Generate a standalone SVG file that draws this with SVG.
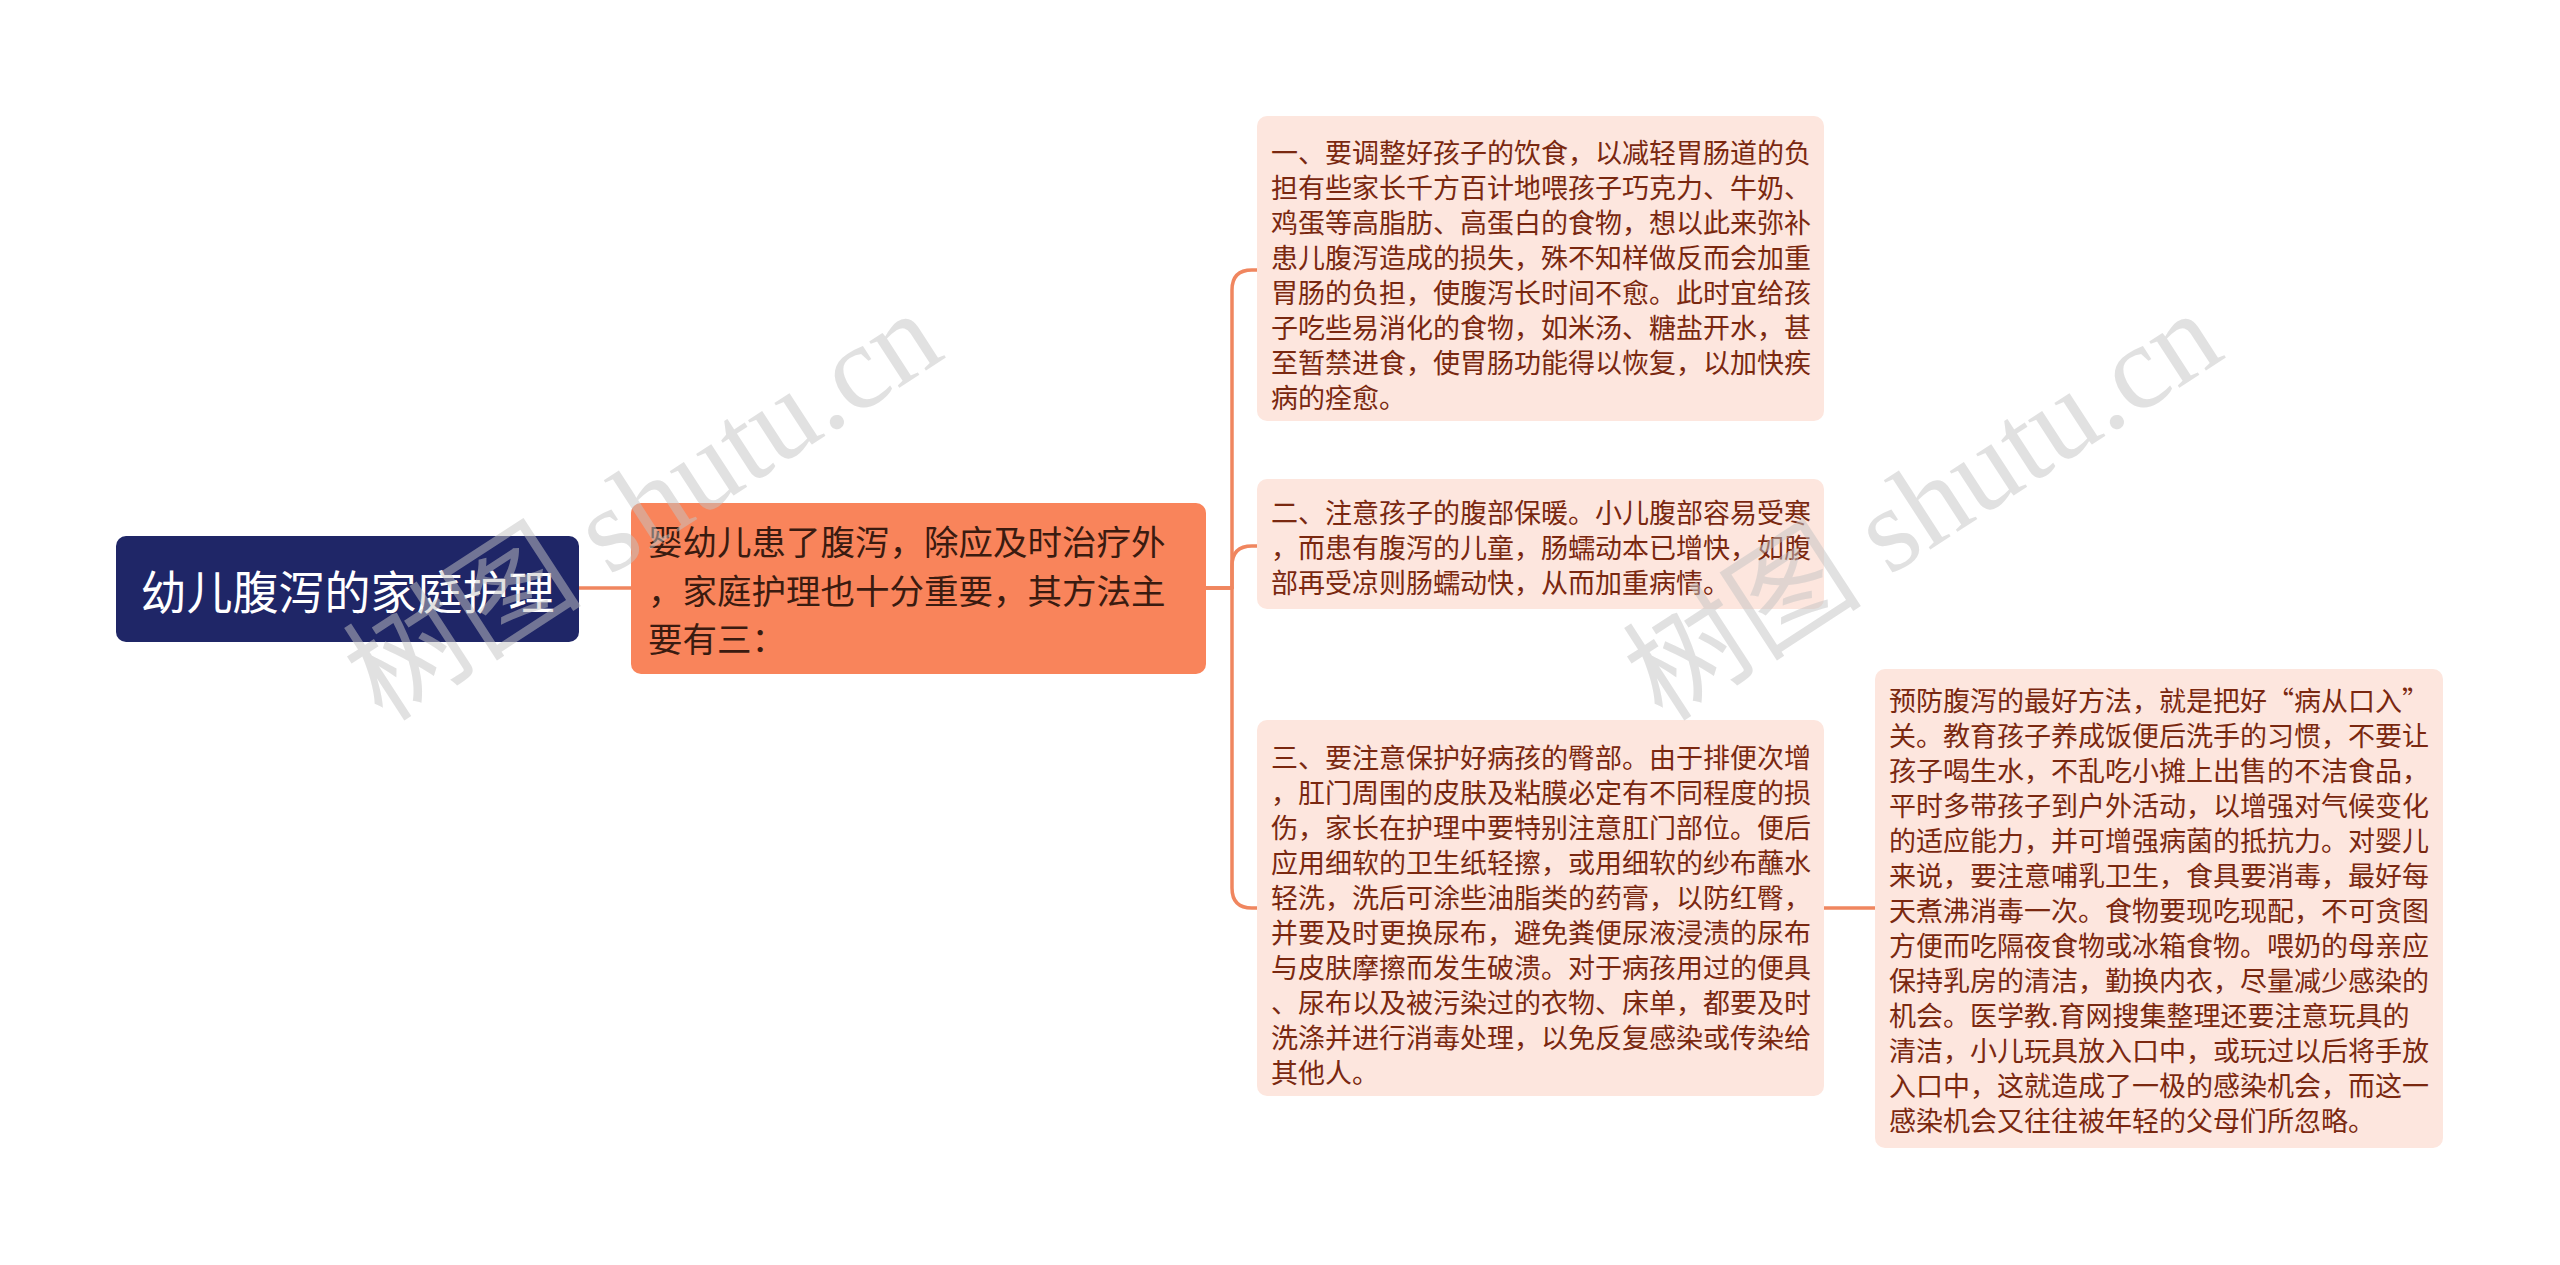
<svg xmlns="http://www.w3.org/2000/svg" width="2560" height="1265" viewBox="0 0 2560 1265">
<style>
.cjk{font-family:"Noto Sans CJK SC","Noto Sans CJK TC",sans-serif;}
.root-box{fill:#1F2667;}
.root-txt{fill:#FFFFFF;font-size:46px;}
.main-box{fill:#F9845B;}
.main-txt{fill:#3A1B10;font-size:34.5px;}
.leaf-box{fill:#FDE6DE;}
.leaf-txt{fill:#7A2810;font-size:27px;}
.conn{fill:none;stroke:#F0865F;stroke-width:3.5;stroke-linecap:round;stroke-linejoin:round;}
.wm{fill:#C4C4C4;opacity:0.5;font-size:120px;font-family:"Liberation Serif","Noto Sans CJK SC",serif;}
</style>
<rect width="2560" height="1265" fill="#FFFFFF"/>
<g id="connectors">
<path class="conn" d="M579 588 L631 588"/>
<path class="conn" d="M1206 588 L1232 588 L1232 290 Q1232 270 1252 270 L1257 270"/>
<path class="conn" d="M1206 588 L1232 588 L1232 566 Q1232 546 1252 546 L1257 546"/>
<path class="conn" d="M1206 588 L1232 588 L1232 888 Q1232 908 1252 908 L1257 908"/>
<path class="conn" d="M1824 908 L1875 908"/>
</g>
<g id="root">
<rect class="root-box" x="116" y="536" width="463" height="106" rx="10"/>
<text class="cjk root-txt" x="347.5" y="589" text-anchor="middle" dominant-baseline="central">幼儿腹泻的家庭护理</text>
</g>
<g id="main">
<rect class="main-box" x="631" y="503" width="575" height="171" rx="10"/>
<text class="cjk main-txt" dominant-baseline="central">
<tspan x="648" y="540">婴幼儿患了腹泻，除应及时治疗外</tspan>
<tspan x="648" y="589">，家庭护理也十分重要，其方法主</tspan>
<tspan x="648" y="637">要有三：</tspan>
</text>
</g>
<g id="leaf1">
<rect class="leaf-box" x="1257" y="116" width="567" height="305" rx="10"/>
<text class="cjk leaf-txt" dominant-baseline="central">
<tspan x="1271" y="151">一、要调整好孩子的饮食，以减轻胃肠道的负</tspan>
<tspan x="1271" y="186">担有些家长千方百计地喂孩子巧克力、牛奶、</tspan>
<tspan x="1271" y="221">鸡蛋等高脂肪、高蛋白的食物，想以此来弥补</tspan>
<tspan x="1271" y="256">患儿腹泻造成的损失，殊不知样做反而会加重</tspan>
<tspan x="1271" y="291">胃肠的负担，使腹泻长时间不愈。此时宜给孩</tspan>
<tspan x="1271" y="326">子吃些易消化的食物，如米汤、糖盐开水，甚</tspan>
<tspan x="1271" y="361">至暂禁进食，使胃肠功能得以恢复，以加快疾</tspan>
<tspan x="1271" y="396">病的痊愈。</tspan>
</text>
</g>
<g id="leaf2">
<rect class="leaf-box" x="1257" y="479" width="567" height="130" rx="10"/>
<text class="cjk leaf-txt" dominant-baseline="central">
<tspan x="1271" y="511">二、注意孩子的腹部保暖。小儿腹部容易受寒</tspan>
<tspan x="1271" y="546">，而患有腹泻的儿童，肠蠕动本已增快，如腹</tspan>
<tspan x="1271" y="581">部再受凉则肠蠕动快，从而加重病情。</tspan>
</text>
</g>
<g id="leaf3">
<rect class="leaf-box" x="1257" y="720" width="567" height="376" rx="10"/>
<text class="cjk leaf-txt" dominant-baseline="central">
<tspan x="1271" y="756">三、要注意保护好病孩的臀部。由于排便次增</tspan>
<tspan x="1271" y="791">，肛门周围的皮肤及粘膜必定有不同程度的损</tspan>
<tspan x="1271" y="826">伤，家长在护理中要特别注意肛门部位。便后</tspan>
<tspan x="1271" y="861">应用细软的卫生纸轻擦，或用细软的纱布蘸水</tspan>
<tspan x="1271" y="896">轻洗，洗后可涂些油脂类的药膏，以防红臀，</tspan>
<tspan x="1271" y="931">并要及时更换尿布，避免粪便尿液浸渍的尿布</tspan>
<tspan x="1271" y="966">与皮肤摩擦而发生破溃。对于病孩用过的便具</tspan>
<tspan x="1271" y="1001">、尿布以及被污染过的衣物、床单，都要及时</tspan>
<tspan x="1271" y="1036">洗涤并进行消毒处理，以免反复感染或传染给</tspan>
<tspan x="1271" y="1071">其他人。</tspan>
</text>
</g>
<g id="leaf4">
<rect class="leaf-box" x="1875" y="669" width="568" height="479" rx="10"/>
<text class="cjk leaf-txt" dominant-baseline="central">
<tspan x="1889" y="699">预防腹泻的最好方法，就是把好“病从口入”</tspan>
<tspan x="1889" y="734">关。教育孩子养成饭便后洗手的习惯，不要让</tspan>
<tspan x="1889" y="769">孩子喝生水，不乱吃小摊上出售的不洁食品，</tspan>
<tspan x="1889" y="804">平时多带孩子到户外活动，以增强对气候变化</tspan>
<tspan x="1889" y="839">的适应能力，并可增强病菌的抵抗力。对婴儿</tspan>
<tspan x="1889" y="874">来说，要注意哺乳卫生，食具要消毒，最好每</tspan>
<tspan x="1889" y="909">天煮沸消毒一次。食物要现吃现配，不可贪图</tspan>
<tspan x="1889" y="944">方便而吃隔夜食物或冰箱食物。喂奶的母亲应</tspan>
<tspan x="1889" y="979">保持乳房的清洁，勤换内衣，尽量减少感染的</tspan>
<tspan x="1889" y="1014">机会。医学教.育网搜集整理还要注意玩具的</tspan>
<tspan x="1889" y="1049">清洁，小儿玩具放入口中，或玩过以后将手放</tspan>
<tspan x="1889" y="1084">入口中，这就造成了一极的感染机会，而这一</tspan>
<tspan x="1889" y="1119">感染机会又往往被年轻的父母们所忽略。</tspan>
</text>
</g>
<g id="watermarks">
<text class="wm" x="665" y="540" text-anchor="middle" transform="rotate(-33 665 540)">树图 shutu.cn</text>
<text class="wm" x="1945" y="540" text-anchor="middle" transform="rotate(-33 1945 540)">树图 shutu.cn</text>
</g>
</svg>
